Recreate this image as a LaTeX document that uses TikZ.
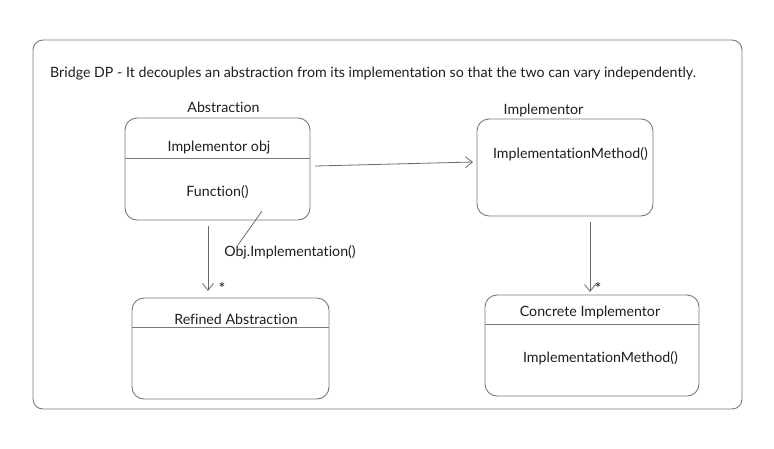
\documentclass[tikz,border=0pt]{standalone}
\usepackage{fontspec}
\setmainfont{Lato}[Ligatures={NoCommon,NoRare},Contextuals=NoAlternate]
\usetikzlibrary{arrows.meta,calc}
\definecolor{linegray}{HTML}{6A6A6A}
\definecolor{boxgray}{HTML}{7A7A7A}
\definecolor{txt}{HTML}{1E1E1E}
\tikzset{
  umlbox/.style={draw=boxgray, line width=0.9pt, rounded corners=12pt, anchor=center},
  lbl/.style={text=txt, font=\fontsize{14.2}{16}\selectfont, inner sep=0pt},
  conn/.style={draw=linegray, line width=0.8pt},
  arr/.style={conn, -{Straight Barb[length=7pt,width=11pt,line width=0.8pt]}},
  divider/.style={draw=boxgray, line width=0.9pt}
}
\begin{document}
\begin{tikzpicture}[x=1pt,y=-1pt]
\useasboundingbox (0,0) rectangle (774,448);
\fill[white] (0,0) rectangle (774,448);
% outer frame
\node[umlbox, rounded corners=10pt, minimum width=709pt, minimum height=369pt] (frame) at (387.5,224.5) {};
\node[lbl, anchor=west] (title) at (50,74) {Bridge DP - It decouples an abstraction from its implementation so that the two can vary independently.};
% Abstraction
\node[umlbox, minimum width=185pt, minimum height=102pt] (abs) at (217.5,169) {};
\node[lbl] (absname) at (223.5,107) {Abstraction};
\node[lbl] (absattr) at (219,148) {Implementor obj};
\node[lbl] (absop) at (217.5,192) {Function()};
\coordinate (d1) at (0,158);
\draw[divider] (abs.west |- d1) -- (abs.east |- d1);
% Implementor
\node[umlbox, minimum width=176pt, minimum height=97pt] (imp) at (565,167.5) {};
\node[lbl] (impname) at (543.5,110) {Implementor};
\node[lbl] (impop) at (570.5,154) {ImplementationMethod()};
% Refined Abstraction
\node[umlbox, minimum width=197pt, minimum height=101pt] (ref) at (230.5,348.5) {};
\node[lbl] (refname) at (236,319) {Refined Abstraction};
\coordinate (d2) at (0,327);
\draw[divider] (ref.west |- d2) -- (ref.east |- d2);
% Concrete Implementor
\node[umlbox, minimum width=214pt, minimum height=101pt] (con) at (592,345.5) {};
\node[lbl] (conname) at (590,312) {Concrete Implementor};
\node[lbl] (conop) at (600.5,358) {ImplementationMethod()};
\coordinate (d3) at (0,324);
\draw[divider] (con.west |- d3) -- (con.east |- d3);
% connectors
\coordinate (a1) at (315,166);
\coordinate (a2) at (473,162);
\draw[arr] (a1) -- (a2);
\coordinate (b1) at (208,226);
\coordinate (b2) at (208,291);
\draw[arr] (b1) -- (b2);
\node[lbl, font=\fontsize{16}{16}\selectfont] (star1) at (222,288) {*};
\coordinate (c1) at (590,222);
\coordinate (c2) at (590,292);
\draw[arr] (c1) -- (c2);
\node[lbl, font=\fontsize{16}{16}\selectfont] (star2) at (598,288) {*};
% note
\coordinate (n1) at (262,211);
\coordinate (n2) at (238,245);
\draw[conn] (n1) -- (n2);
\node[lbl] (note) at (290,252) {Obj.Implementation()};
\end{tikzpicture}
\end{document}
